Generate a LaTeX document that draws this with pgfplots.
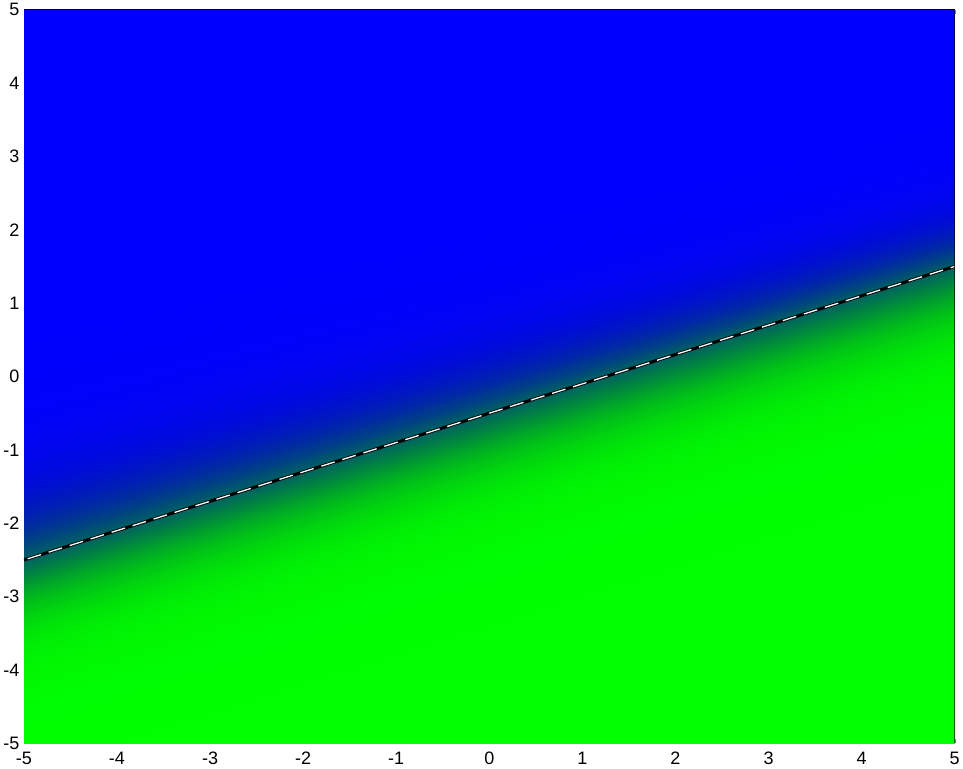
\documentclass[border=0pt]{standalone}
\usepackage{pgfplots}
\pgfplotsset{compat=1.18}
\usepackage{fontspec}
\setmainfont{Liberation Sans}

% rows run parallel to the boundary line; p = share of green
% (left column x=-5, right column x=5)
\pgfplotstableread{
x y p
-5 -9.0 1.0000
5 -5.0 1.0000
-5 -5.5 0.9994
5 -1.5 0.9994
-5 -4.5 0.9933
5 -0.5 0.9933
-5 -4.0 0.9770
5 0.0 0.9770
-5 -3.7 0.9526
5 0.3 0.9526
-5 -3.5 0.9241
5 0.5 0.9241
-5 -3.3 0.8808
5 0.7 0.8808
-5 -3.1 0.8176
5 0.9 0.8176
-5 -2.9 0.7311
5 1.1 0.7311
-5 -2.7 0.6225
5 1.3 0.6225
-5 -2.5 0.5000
5 1.5 0.5000
-5 -2.3 0.4013
5 1.7 0.3543
-5 -2.1 0.3100
5 1.9 0.2315
-5 -1.9 0.2315
5 2.1 0.1419
-5 -1.7 0.1680
5 2.3 0.0832
-5 -1.5 0.1192
5 2.5 0.0474
-5 -1.3 0.0832
5 2.7 0.0266
-5 -1.0 0.0474
5 3.0 0.0110
-5 -0.5 0.0180
5 3.5 0.0025
-5 0.5 0.0025
5 4.5 0.0001
-5 5.0 0.0000
5 9.0 0.0000
}\probtable

\begin{document}
\begin{tikzpicture}
\begin{axis}[
  scale only axis, width=931pt, height=734pt,
  xmin=-5, xmax=5, ymin=-5, ymax=5,
  xtick={-5,...,5}, ytick={-5,...,5},
  tick align=inside, major tick length=4pt,
  /pgf/number format/assume math mode=true,
  tick label style={font=\fontsize{18}{21}\selectfont},
  xticklabel style={yshift=-5pt},
  yticklabel style={xshift=-1pt},
  colormap={gb}{rgb=(0,0,1) rgb=(0,0.040,0.863) rgb=(0,0.105,0.732)
    rgb=(0,0.185,0.607) rgb=(0,0.277,0.489) rgb=(0,0.379,0.379)
    rgb=(0,0.489,0.277) rgb=(0,0.607,0.185) rgb=(0,0.732,0.105)
    rgb=(0,0.863,0.040) rgb=(0,1,0)},
  point meta min=0, point meta max=1,
  axis line style={draw=none},
]
\addplot[surf, shader=interp, mesh/cols=2, mesh/ordering=x varies,
  point meta=\thisrow{p}] table[x=x, y=y] {\probtable};
\addplot[black, line width=3pt] coordinates {(-5,-2.5) (5,1.5)};
\addplot[white, line width=1.3pt, dash pattern=on 14pt off 8pt, dash phase=-4pt]
  coordinates {(-5,-2.5) (5,1.5)};
\draw[black, line width=1.5pt] (rel axis cs:0,1) -- (rel axis cs:1,1) -- (rel axis cs:1,0);
\end{axis}
\end{tikzpicture}
\end{document}
